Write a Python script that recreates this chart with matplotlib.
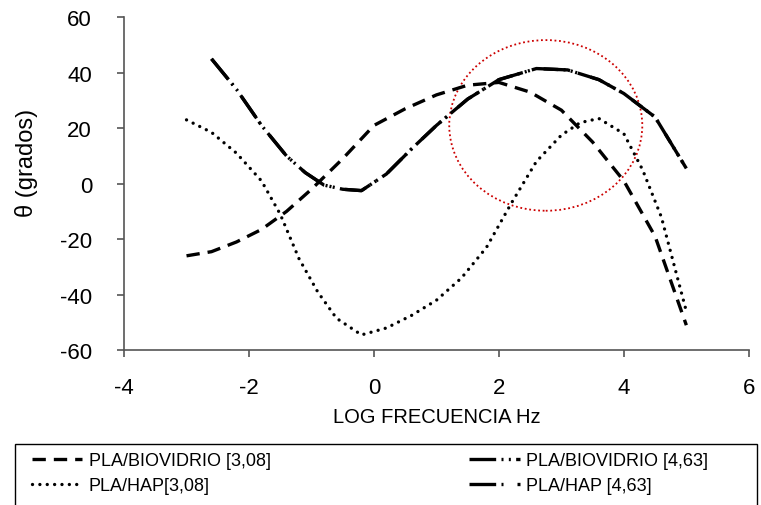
import matplotlib
matplotlib.use("Agg")
import matplotlib.pyplot as plt
import matplotlib.patches as patches

plt.rcParams["font.family"] = ["Liberation Sans", "DejaVu Sans"]
plt.rcParams["axes.unicode_minus"] = False

# PLA/BIOVIDRIO [3,08]
bio308_x = [-3.0, -2.6, -2.2, -1.8, -1.4, -1.0, -0.5, 0.0, 0.5, 1.0, 1.5, 2.0, 2.5, 3.0, 3.5, 4.0, 4.5, 5.0]
bio308_y = [-26, -24.5, -21, -16.5, -10, -2, 9, 21, 27, 32, 35.5, 36.5, 33, 26.5, 15, 1, -19, -51]

# PLA/HAP [3,08]
hap308_x = [-3.0, -2.6, -2.2, -1.8, -1.5, -1.2, -0.9, -0.6, -0.2, 0.2, 0.6, 1.0, 1.4, 1.8, 2.2, 2.6, 3.0, 3.3, 3.6, 4.0, 4.3, 4.6, 5.0]
hap308_y = [23, 18.5, 11, 1, -11, -27, -39, -48.5, -54.5, -52, -47.5, -42, -34, -23, -7, 8, 17.5, 22, 23.5, 18, 5, -12, -46]

# PLA/HAP [4,63] and PLA/BIOVIDRIO [4,63] (the two curves overlap)
hap463_x = [-2.6, -2.2, -1.8, -1.4, -1.1, -0.8, -0.5, -0.2, 0.2, 0.6, 1.0, 1.5, 2.0, 2.6, 3.1, 3.6, 4.0, 4.5, 5.0]
hap463_y = [45, 34, 21, 10, 4, -0.5, -2, -2.5, 3.5, 12.5, 21, 30.5, 37.5, 41.5, 41, 37.5, 32.5, 24, 5.5]
bio463_x = hap463_x
bio463_y = hap463_y

x_ticks = [-4, -2, 0, 2, 4, 6]
y_ticks = [-60, -40, -20, 0, 20, 40, 60]

fig = plt.figure(figsize=(7.61, 5.06), dpi=100)
ax = fig.add_axes([0.163, 0.306, 0.821, 0.658])

lw = 2.4
ax.plot(bio308_x, bio308_y, color="black", lw=lw, dashes=(4, 2.4),
        label="PLA/BIOVIDRIO [3,08]")
ax.plot(hap308_x, hap308_y, color="black", lw=lw, linestyle=(0, (0.01, 2.2)),
        dash_capstyle="round", label="PLA/HAP[3,08]")
ax.plot(bio463_x, bio463_y, color="black", lw=lw, dashes=(8, 1.6, 0.6, 1.6, 0.6, 1.6),
        label="PLA/BIOVIDRIO [4,63]")
ax.plot(hap463_x, hap463_y, color="black", lw=lw, dashes=(8, 1.6, 0.6, 4.2),
        label="PLA/HAP [4,63]")

# red dotted circle highlighting the peak region
ring = patches.Ellipse((2.75, 21), 3.09, 61.5, fill=False, edgecolor="#cc0000",
                       linestyle=(0, (1, 1.5)), linewidth=1.3)
ax.add_patch(ring)

ax.set_xlim(-4, 6)
ax.set_ylim(-60, 60)
ax.set_xticks(x_ticks)
ax.set_yticks(y_ticks)
for side in ("top", "right"):
    ax.spines[side].set_visible(False)
for side in ("left", "bottom"):
    ax.spines[side].set_color("#555555")
    ax.spines[side].set_linewidth(1.2)
ax.tick_params(direction="out", length=5, width=1.2, color="#555555", labelsize=16)
ax.tick_params(axis="x", pad=14)
ax.tick_params(axis="y", pad=18)

ax.set_xlabel("LOG FRECUENCIA Hz", fontsize=14.5)
ax.xaxis.set_label_coords(0.5, -0.172)
ax.set_ylabel("θ (grados)", fontsize=17)
ax.yaxis.set_label_coords(-0.138, 0.565)

leg = fig.legend(loc="upper left", bbox_to_anchor=(0.025, 0.13, 0.922, 0.0),
                 mode="expand", ncol=2, frameon=False, fontsize=13,
                 handlelength=2.8, borderpad=0.2, labelspacing=0.45,
                 handletextpad=0.35)
frame = patches.Rectangle((15 / 761, -0.05), 742 / 761, 0.05 + 1 - 445 / 506,
                          transform=fig.transFigure, fill=False,
                          edgecolor="black", linewidth=1.0)
fig.patches.append(frame)

fig.savefig("out.png", dpi=100)
